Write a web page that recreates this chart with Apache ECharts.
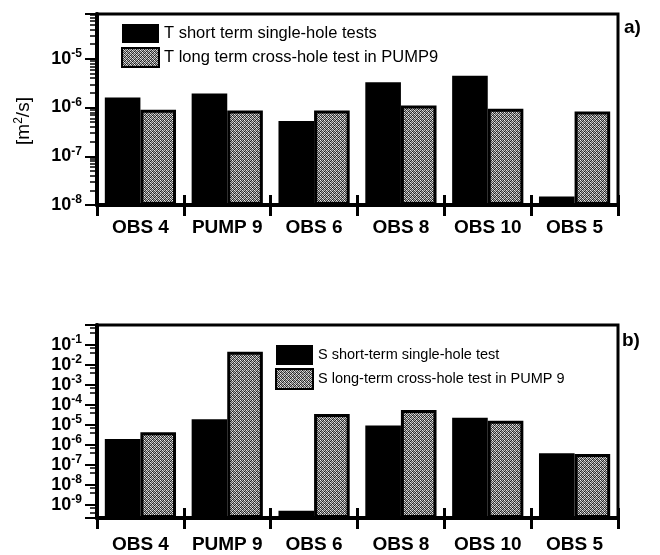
<!DOCTYPE html>
<html>
<head>
<meta charset="utf-8">
<script src="https://cdn.jsdelivr.net/npm/echarts@6/dist/echarts.min.js"></script>
<style>
html,body{margin:0;padding:0;background:#fff;}
#chart{width:660px;height:555px;}
</style>
</head>
<body>
<div id="chart"></div>
<script>
// ---- data ----
const categories = ['OBS 4', 'PUMP 9', 'OBS 6', 'OBS 8', 'OBS 10', 'OBS 5'];
const tShortTerm = [1.6e-6, 1.95e-6, 5.3e-7, 3.3e-6, 4.5e-6, 1.5e-8];
const tLongTerm = [9.0e-7, 8.7e-7, 8.7e-7, 1.1e-6, 9.4e-7, 8.3e-7];
const sShortTerm = [2.0e-6, 1.9e-5, 5.0e-10, 9.3e-6, 2.3e-5, 3.8e-7];
const sLongTerm = [4.3e-6, 4.6e-2, 3.5e-5, 5.6e-5, 1.6e-5, 3.5e-7];
const topLabelExponents = [-8, -7, -6, -5];
const bottomLabelExponents = [-9, -8, -7, -6, -5, -4, -3, -2, -1];
const topAxisRange = [1e-8, 8.3e-5];
const bottomAxisRange = [2.2e-10, 1];
const seriesNames = {
  tShort: 'T short term single-hole tests',
  tLong: 'T long term cross-hole test in PUMP9',
  sShort: 'S short-term single-hole test',
  sLong: 'S long-term cross-hole test in PUMP 9'
};

// stippled gray texture (fixed dither tile)
function makePattern() {
  const tile = [
    [240, 60, 180, 40],
    [100, 200, 30, 160],
    [190, 50, 230, 90],
    [30, 150, 80, 210]
  ];
  const c = document.createElement('canvas');
  c.width = 4; c.height = 4;
  const ctx = c.getContext('2d');
  for (let y = 0; y < 4; y++) for (let x = 0; x < 4; x++) {
    const g = tile[y][x];
    ctx.fillStyle = 'rgb(' + g + ',' + g + ',' + g + ')';
    ctx.fillRect(x, y, 1, 1);
  }
  return c;
}
const grayFill = { image: makePattern(), repeat: 'repeat' };

const FONT = '"Liberation Sans", Arial, Helvetica, sans-serif';

function expFormatter(allowed) {
  return function (v) {
    const l = Math.log10(v);
    const e = Math.round(l);
    if (Math.abs(l - e) > 1e-6 || allowed.indexOf(e) < 0) return '';
    return '{b|10}{s|' + e + '}';
  };
}
const labelRich = {
  b: { fontSize: 18, fontWeight: 'bold', fontFamily: FONT, color: '#000', lineHeight: 22 },
  s: { fontSize: 12, fontWeight: 'bold', fontFamily: FONT, color: '#000', lineHeight: 12, padding: [0, 0, 10, 0] }
};

function yAxisFor(gridIndex, range, labels, minorSplit) {
  return {
    type: 'log',
    gridIndex: gridIndex,
    logBase: 10,
    min: range[0],
    max: range[1],
    startValue: range[0],
    axisLine: { show: true, lineStyle: { color: '#000', width: 4 } },
    axisTick: { show: true, length: 12, lineStyle: { color: '#000', width: 2 } },
    minorTick: { show: true, splitNumber: minorSplit, length: 7, lineStyle: { color: '#000', width: 1.5 } },
    splitLine: { show: false },
    minorSplitLine: { show: false },
    axisLabel: {
      margin: 15,
      formatter: expFormatter(labels),
      rich: labelRich
    }
  };
}

function xAxesFor(gridIndex, labelMargin) {
  return [{
    type: 'category',
    gridIndex: gridIndex,
    data: categories,
    position: 'bottom',
    axisLine: { show: true, lineStyle: { color: '#000', width: 4 } },
    axisTick: { show: true, interval: 0, length: 11, lineStyle: { color: '#000', width: 3 } },
    axisLabel: { interval: 0, margin: labelMargin, fontSize: 19, fontWeight: 'bold', fontFamily: FONT, color: '#000' }
  }, {
    type: 'category',
    gridIndex: gridIndex,
    data: categories,
    position: 'bottom',
    axisLine: { show: false },
    axisTick: { show: true, inside: true, interval: 0, length: 10, lineStyle: { color: '#000', width: 3 } },
    axisLabel: { show: false }
  }];
}

const blackBar = { color: '#000' };
const grayBar = { color: grayFill, borderColor: '#000', borderWidth: 3 };

const chart = echarts.init(document.getElementById('chart'), null, { renderer: 'canvas' });
chart.setOption({
  animation: false,
  backgroundColor: '#fff',
  textStyle: { fontFamily: FONT },
  grid: [
    { left: 97, right: 42, top: 14, height: 191, show: true, borderColor: '#000', borderWidth: 3, containLabel: false },
    { left: 97, right: 42, top: 325, height: 193, show: true, borderColor: '#000', borderWidth: 3, containLabel: false }
  ],
  xAxis: xAxesFor(0, 13).concat(xAxesFor(1, 17)),
  yAxis: [
    yAxisFor(0, topAxisRange, topLabelExponents, 9),
    yAxisFor(1, bottomAxisRange, bottomLabelExponents, 3)
  ],
  legend: [{
    data: [seriesNames.tShort, seriesNames.tLong],
    orient: 'vertical',
    left: 121, top: 24, padding: 0,
    itemWidth: 37, itemHeight: 19, itemGap: 4,
    icon: 'rect',
    selectedMode: false,
    textStyle: { fontSize: 16.5, color: '#000', fontFamily: FONT }
  }, {
    data: [seriesNames.sShort, seriesNames.sLong],
    orient: 'vertical',
    left: 275, top: 345, padding: 0,
    itemWidth: 37, itemHeight: 20, itemGap: 3,
    icon: 'rect',
    selectedMode: false,
    textStyle: { fontSize: 14.5, color: '#000', fontFamily: FONT }
  }],
  graphic: [
    { type: 'text', left: 624, top: 18, style: { text: 'a)', fontSize: 19, fontWeight: 'bold', fontFamily: FONT, fill: '#000' } },
    { type: 'text', left: 622, top: 331, style: { text: 'b)', fontSize: 19, fontWeight: 'bold', fontFamily: FONT, fill: '#000' } },
    { type: 'text', x: 24, y: 121, rotation: Math.PI / 2,
      style: {
        text: '{b|[m}{s|2}{b|/s]}',
        align: 'center', verticalAlign: 'middle',
        rich: {
          b: { fontSize: 19, fontFamily: FONT, fill: '#000', lineHeight: 22 },
          s: { fontSize: 12, fontFamily: FONT, fill: '#000', lineHeight: 12, padding: [0, 0, 10, 0] }
        }
      } }
  ],
  series: [
    { name: seriesNames.tShort, type: 'bar', xAxisIndex: 0, yAxisIndex: 0, data: tShortTerm, itemStyle: blackBar, barGap: '0%', barCategoryGap: '18%' },
    { name: seriesNames.tLong, type: 'bar', xAxisIndex: 0, yAxisIndex: 0, data: tLongTerm, itemStyle: grayBar, barGap: '0%', barCategoryGap: '18%' },
    { name: seriesNames.sShort, type: 'bar', xAxisIndex: 2, yAxisIndex: 1, data: sShortTerm, itemStyle: blackBar, barGap: '0%', barCategoryGap: '18%' },
    { name: seriesNames.sLong, type: 'bar', xAxisIndex: 2, yAxisIndex: 1, data: sLongTerm, itemStyle: grayBar, barGap: '0%', barCategoryGap: '18%' }
  ]
});
</script>
</body>
</html>
